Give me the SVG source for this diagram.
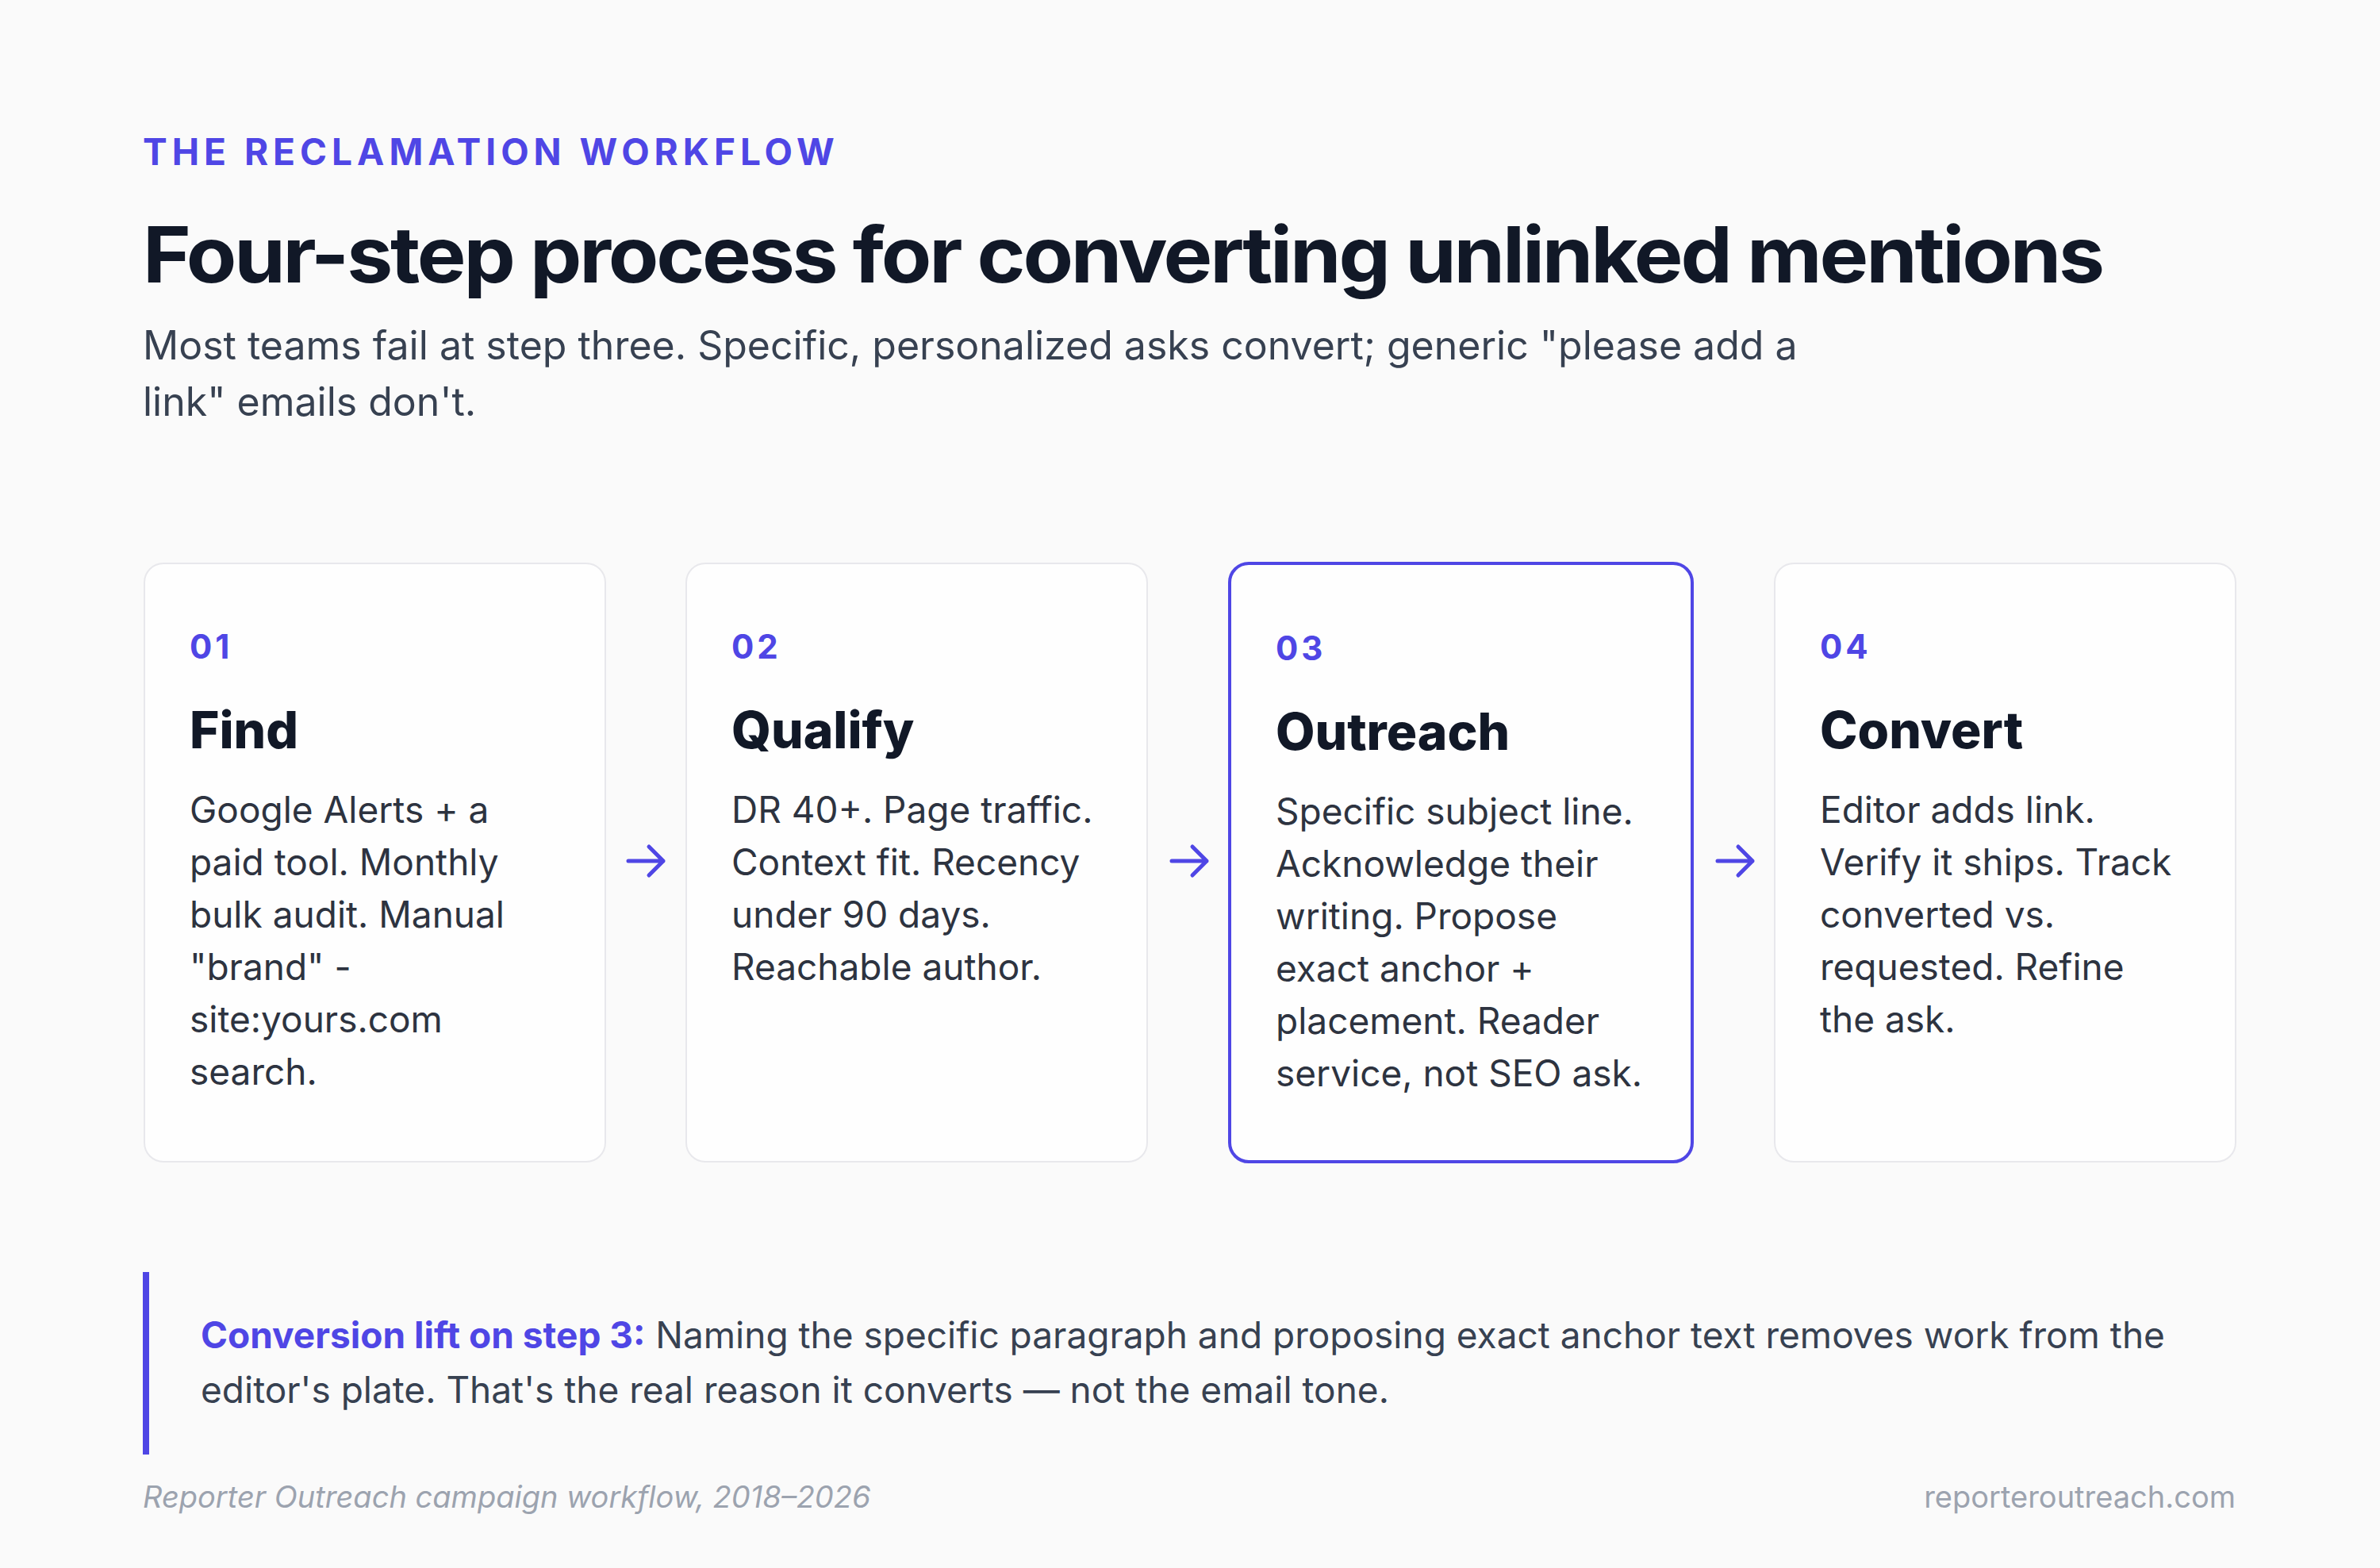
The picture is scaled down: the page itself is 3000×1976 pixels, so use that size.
<svg xmlns="http://www.w3.org/2000/svg" width="3000" height="1976" viewBox="0 0 3000 1976">
<style>
text{font-family:"Inter","Open Sans","Liberation Sans",sans-serif}
.card{fill:#fefefe;stroke:#e8e8ec;stroke-width:2}
.num{font-size:42px;font-weight:700;fill:#4f46e5;letter-spacing:4px}
.head{font-size:64px;font-weight:800;fill:#111827}
.body{font-size:46px;fill:#2d3340}
.arrow{stroke:#4f46e5;stroke-width:5;fill:none;stroke-linecap:round;stroke-linejoin:round}
</style>
<rect width="3000" height="1976" fill="#fafafa"/>
<text x="180" y="208" font-size="46" font-weight="700" fill="#4f46e5" letter-spacing="6">THE RECLAMATION WORKFLOW</text>
<text x="180" y="356" font-size="98" font-weight="700" fill="#111827" letter-spacing="-3" textLength="2470" lengthAdjust="spacingAndGlyphs">Four-step process for converting unlinked mentions</text>
<text x="180" y="453" font-size="50" fill="#374151">Most teams fail at step three. Specific, personalized asks convert; generic "please add a</text>
<text x="180" y="524" font-size="50" fill="#374151">link" emails don't.</text>

<g id="step1">
<rect class="card" x="182" y="710" width="581" height="754" rx="24"/>
<text class="num" x="239" y="830">01</text>
<text class="head" x="239" y="943">Find</text>
<text class="body" x="239"><tspan y="1037">Google Alerts + a</tspan><tspan x="239" y="1103">paid tool. Monthly</tspan><tspan x="239" y="1169">bulk audit. Manual</tspan><tspan x="239" y="1235">"brand" -</tspan><tspan x="239" y="1301">site:yours.com</tspan><tspan x="239" y="1367">search.</tspan></text>
</g>
<g id="step2">
<rect class="card" x="865" y="710" width="581" height="754" rx="24"/>
<text class="num" x="922" y="830">02</text>
<text class="head" x="922" y="943">Qualify</text>
<text class="body" x="922"><tspan y="1037">DR 40+. Page traffic.</tspan><tspan x="922" y="1103">Context fit. Recency</tspan><tspan x="922" y="1169">under 90 days.</tspan><tspan x="922" y="1235">Reachable author.</tspan></text>
</g>
<g id="step3">
<rect x="1550" y="710" width="583" height="754" rx="24" fill="#fefefe" stroke="#4f46e5" stroke-width="4"/>
<text class="num" x="1608" y="832">03</text>
<text class="head" x="1608" y="945">Outreach</text>
<text class="body" x="1608"><tspan y="1039">Specific subject line.</tspan><tspan x="1608" y="1105">Acknowledge their</tspan><tspan x="1608" y="1171">writing. Propose</tspan><tspan x="1608" y="1237">exact anchor +</tspan><tspan x="1608" y="1303">placement. Reader</tspan><tspan x="1608" y="1369">service, not SEO ask.</tspan></text>
</g>
<g id="step4">
<rect class="card" x="2237" y="710" width="581" height="754" rx="24"/>
<text class="num" x="2294" y="830">04</text>
<text class="head" x="2294" y="943">Convert</text>
<text class="body" x="2294"><tspan y="1037">Editor adds link.</tspan><tspan x="2294" y="1103">Verify it ships. Track</tspan><tspan x="2294" y="1169">converted vs.</tspan><tspan x="2294" y="1235">requested. Refine</tspan><tspan x="2294" y="1301">the ask.</tspan></text>
</g>
<g id="connectors">
<path class="arrow" d="M792 1085H836M818 1067L836 1085L818 1103"/>
<path class="arrow" d="M1477 1085H1521M1503 1067L1521 1085L1503 1103"/>
<path class="arrow" d="M2165 1085H2209M2191 1067L2209 1085L2191 1103"/>
</g>
<g id="callout">
<rect x="180" y="1603" width="8" height="230" fill="#4f46e5"/>
<text x="253" y="1699" font-size="46" fill="#374151"><tspan font-weight="700" fill="#4f46e5">Conversion lift on step 3:</tspan> Naming the specific paragraph and proposing exact anchor text removes work from the</text>
<text x="253" y="1768" font-size="46" fill="#374151">editor's plate. That's the real reason it converts — not the email tone.</text>
</g>
<text x="180" y="1900" font-size="38" font-style="italic" fill="#9ca3af">Reporter Outreach campaign workflow, 2018–2026</text>
<text x="2818" y="1900" font-size="38" fill="#9ca3af" text-anchor="end">reporteroutreach.com</text>
</svg>
